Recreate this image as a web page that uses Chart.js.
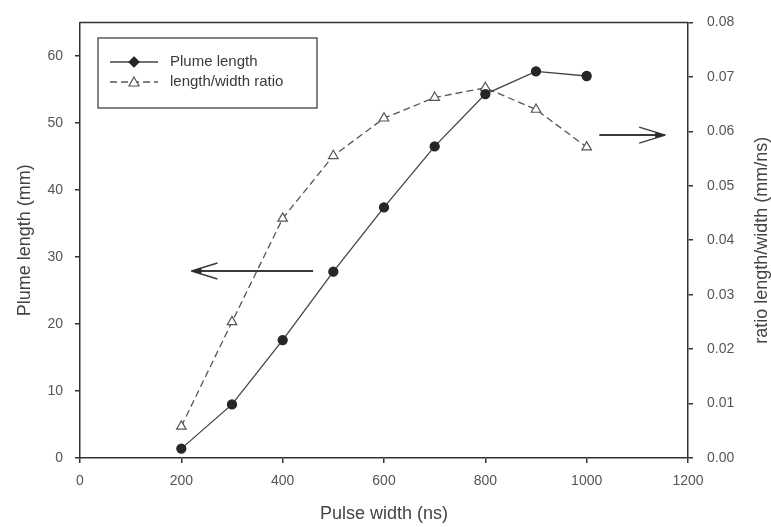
<!DOCTYPE html>
<html>
<head>
<meta charset="utf-8">
<script src="https://cdn.jsdelivr.net/npm/chart.js@4/dist/chart.umd.min.js"></script>
<style>
  html, body { margin: 0; padding: 0; background: #fff; }
  #wrap { width: 771px; height: 527px; }
</style>
</head>
<body>
<div id="wrap"><canvas id="c"></canvas></div>
<script>
// values
const pulseWidths = [200, 300, 400, 500, 600, 700, 800, 900, 1000];
const plumeLength = [1.4, 8.0, 17.6, 27.8, 37.4, 46.5, 54.3, 57.7, 57.0];
const lengthWidthRatio = [0.0058, 0.025, 0.044, 0.0555, 0.0624, 0.0662, 0.068, 0.064, 0.0571];

const xTicks = [0, 200, 400, 600, 800, 1000, 1200];
const leftTicks = [0, 10, 20, 30, 40, 50, 60];
const rightTicks = [0, 0.01, 0.02, 0.03, 0.04, 0.05, 0.06, 0.07, 0.08];

// arrows in data units: [x, y]
const leftArrow = { from: [460, 27.9], to: [220, 27.9] };   // on left axis
const rightArrow = { from: [1025, 0.0593], to: [1155, 0.0593] }; // on right axis

const FONT = "'Liberation Sans', Arial, sans-serif";
const INK = "#333";

function drawArrow(ctx, x1, y, x2) {
  const dir = x2 > x1 ? 1 : -1;
  ctx.save();
  ctx.strokeStyle = "#3a3a3a";
  ctx.fillStyle = "#2a2a2a";
  ctx.lineWidth = 2;
  ctx.beginPath();
  ctx.moveTo(x1, y);
  ctx.lineTo(x2, y);
  ctx.stroke();
  ctx.lineWidth = 1.4;
  ctx.beginPath();
  ctx.moveTo(x2, y);
  ctx.lineTo(x2 - dir * 26, y - 8);
  ctx.moveTo(x2, y);
  ctx.lineTo(x2 - dir * 26, y + 8);
  ctx.stroke();
  ctx.beginPath();
  ctx.moveTo(x2, y);
  ctx.lineTo(x2 - dir * 10, y - 3);
  ctx.lineTo(x2 - dir * 10, y + 3);
  ctx.closePath();
  ctx.fill();
  ctx.restore();
}

const extras = {
  id: "extras",
  afterDraw(chart) {
    const { ctx, chartArea: a, scales } = chart;
    // frame top edge
    ctx.save();
    ctx.strokeStyle = INK;
    ctx.lineWidth = 1.5;
    ctx.beginPath();
    ctx.moveTo(a.left, a.top);
    ctx.lineTo(a.right, a.top);
    ctx.stroke();

    // legend box
    ctx.lineWidth = 1.2;
    ctx.strokeRect(98, 38, 219, 70);
    const rows = [62, 82];
    chart.data.datasets.forEach((ds, i) => {
      const y = rows[i];
      ctx.save();
      ctx.strokeStyle = ds.borderColor;
      ctx.lineWidth = 1.4;
      ctx.setLineDash(ds.borderDash || []);
      ctx.beginPath();
      ctx.moveTo(110, y);
      ctx.lineTo(158, y);
      ctx.stroke();
      ctx.restore();
      ctx.save();
      ctx.fillStyle = ds.pointBackgroundColor;
      ctx.strokeStyle = ds.pointBorderColor;
      ctx.lineWidth = 1.2;
      ctx.beginPath();
      if (i === 0) {
        ctx.moveTo(134, y - 5); ctx.lineTo(139, y); ctx.lineTo(134, y + 5); ctx.lineTo(129, y);
      } else {
        ctx.moveTo(134, y - 5); ctx.lineTo(139, y + 4); ctx.lineTo(129, y + 4);
      }
      ctx.closePath();
      ctx.fill();
      ctx.stroke();
      ctx.restore();
      ctx.fillStyle = "#3a3a3a";
      ctx.font = "15px " + FONT;
      ctx.textBaseline = "middle";
      ctx.fillText(ds.label, 170, y);
    });

    // arrows
    const xs = scales.x, yl = scales.y, yr = scales.y1;
    drawArrow(ctx, xs.getPixelForValue(leftArrow.from[0]), yl.getPixelForValue(leftArrow.from[1]),
      xs.getPixelForValue(leftArrow.to[0]));
    drawArrow(ctx, xs.getPixelForValue(rightArrow.from[0]), yr.getPixelForValue(rightArrow.from[1]),
      xs.getPixelForValue(rightArrow.to[0]));

    // right axis title, reading bottom to top
    ctx.translate(762, (a.top + a.bottom) / 2);
    ctx.rotate(-Math.PI / 2);
    ctx.fillStyle = "#444";
    ctx.font = "18px " + FONT;
    ctx.textAlign = "center";
    ctx.textBaseline = "middle";
    ctx.fillText("ratio length/width (mm/ns)", 0, 0);
    ctx.restore();
  }
};

const axisGrid = { drawOnChartArea: false, drawTicks: true, tickLength: 5, color: INK, lineWidth: 1.5 };
const axisBorder = { display: true, color: INK, width: 1.5 };
const tickFont = { family: FONT, size: 14 };

new Chart(document.getElementById("c"), {
  type: "line",
  data: {
    datasets: [
      {
        label: "Plume length",
        data: pulseWidths.map((x, i) => ({ x, y: plumeLength[i] })),
        yAxisID: "y",
        borderColor: "#444",
        borderWidth: 1.3,
        pointStyle: "circle",
        pointRadius: 4.5,
        pointBackgroundColor: "#262626",
        pointBorderColor: "#262626",
        tension: 0,
      },
      {
        label: "length/width ratio",
        data: pulseWidths.map((x, i) => ({ x, y: lengthWidthRatio[i] })),
        yAxisID: "y1",
        borderColor: "#555",
        borderWidth: 1.3,
        borderDash: [7, 4],
        pointStyle: "triangle",
        pointRadius: 5.5,
        pointBorderWidth: 1.2,
        pointBackgroundColor: "#fff",
        pointBorderColor: "#555",
        tension: 0,
      },
    ],
  },
  options: {
    responsive: true,
    maintainAspectRatio: false,
    animation: false,
    layout: { padding: { top: 17, left: 0, right: 0, bottom: 0 } },
    plugins: { legend: { display: false }, tooltip: { enabled: false } },
    scales: {
      x: {
        type: "linear",
        min: 0,
        max: 1200,
        afterBuildTicks: (s) => { s.ticks = xTicks.map((v) => ({ value: v })); },
        afterFit: (s) => { s.height = 69; },
        ticks: { font: tickFont, color: "#555", padding: 10, maxRotation: 0, callback: (v) => String(v) },
        grid: axisGrid,
        border: axisBorder,
        title: { display: true, text: "Pulse width (ns)", color: "#444",
          font: { family: FONT, size: 18 }, padding: { top: 0, bottom: 2 } },
      },
      y: {
        position: "left",
        min: 0,
        max: 65,
        afterBuildTicks: (s) => { s.ticks = leftTicks.map((v) => ({ value: v })); },
        afterFit: (s) => { s.width = 80; },
        ticks: { font: tickFont, color: "#555", padding: 12 },
        grid: axisGrid,
        border: axisBorder,
        title: { display: true, text: "Plume length (mm)", color: "#444",
          font: { family: FONT, size: 18 }, padding: { top: 14, bottom: 0 } },
      },
      y1: {
        position: "right",
        min: 0,
        max: 0.08,
        afterBuildTicks: (s) => { s.ticks = rightTicks.map((v) => ({ value: v })); },
        afterFit: (s) => { s.width = 83; },
        ticks: { font: tickFont, color: "#555", padding: 14, callback: (v) => v.toFixed(2) },
        grid: axisGrid,
        border: axisBorder,
      },
    },
  },
  plugins: [extras],
});
</script>
</body>
</html>
